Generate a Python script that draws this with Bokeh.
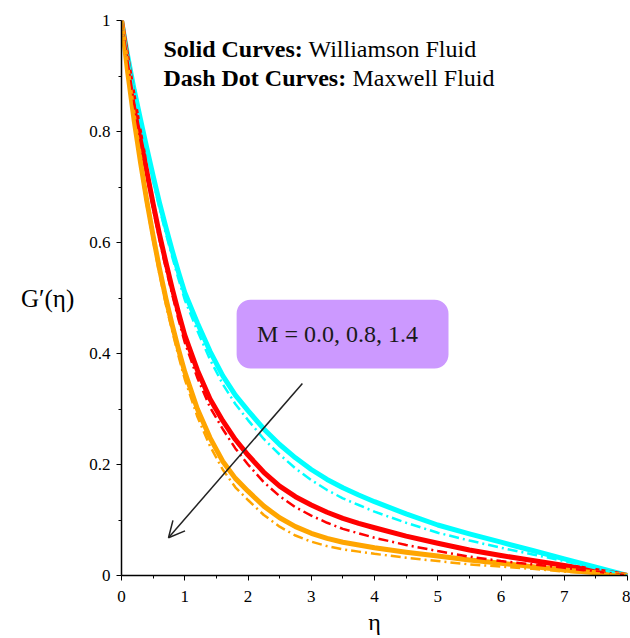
from bokeh.plotting import figure
from bokeh.models import (Range1d, FixedTicker, CustomJSTickFormatter, Label,
                          Arrow, OpenHead, BoxAnnotation)
from bokeh.embed import file_html
from bokeh.resources import INLINE

# ---- data ----
eta = [0, 0.1, 0.2, 0.3, 0.4, 0.5, 0.6, 0.7, 0.8, 0.9, 1.0, 1.2, 1.4, 1.6, 1.8, 2.0,
       2.25, 2.5, 2.75, 3.0, 3.25, 3.5, 3.75, 4.0, 4.5, 5.0, 5.5, 6.0, 6.5, 7.0, 7.5, 8.0]

williamson_M00 = [1, 0.935, 0.875, 0.822, 0.77, 0.72, 0.672, 0.628, 0.586, 0.547, 0.51,
                  0.455, 0.404, 0.36, 0.325, 0.297, 0.264, 0.236, 0.212, 0.191, 0.173, 0.158,
                  0.145, 0.133, 0.111, 0.091, 0.075, 0.06, 0.045, 0.03, 0.015, 0]
williamson_M08 = [1, 0.925, 0.855, 0.79, 0.728, 0.67, 0.615, 0.565, 0.518, 0.474, 0.433,
                  0.37, 0.318, 0.279, 0.245, 0.217, 0.186, 0.161, 0.142, 0.127, 0.114, 0.103,
                  0.094, 0.086, 0.071, 0.058, 0.046, 0.036, 0.027, 0.018, 0.009, 0]
williamson_M14 = [1, 0.905, 0.82, 0.745, 0.675, 0.612, 0.553, 0.5, 0.452, 0.408, 0.367,
                  0.3, 0.248, 0.206, 0.175, 0.152, 0.125, 0.104, 0.088, 0.076, 0.067, 0.06,
                  0.055, 0.05, 0.042, 0.035, 0.028, 0.022, 0.016, 0.01, 0.005, 0]

maxwell_M00 = [1, 0.933, 0.871, 0.816, 0.762, 0.711, 0.662, 0.617, 0.575, 0.535, 0.497,
               0.441, 0.389, 0.345, 0.309, 0.28, 0.246, 0.218, 0.193, 0.172, 0.154, 0.139,
               0.127, 0.115, 0.095, 0.077, 0.063, 0.05, 0.038, 0.026, 0.013, 0]
maxwell_M08 = [1, 0.923, 0.851, 0.784, 0.72, 0.661, 0.605, 0.554, 0.507, 0.462, 0.42,
               0.356, 0.303, 0.264, 0.229, 0.2, 0.168, 0.143, 0.123, 0.108, 0.095, 0.084,
               0.076, 0.068, 0.055, 0.044, 0.034, 0.026, 0.02, 0.014, 0.007, 0]
maxwell_M14 = [1, 0.903, 0.816, 0.739, 0.667, 0.603, 0.543, 0.489, 0.441, 0.396, 0.354,
               0.286, 0.233, 0.191, 0.159, 0.136, 0.109, 0.088, 0.072, 0.061, 0.053, 0.047,
               0.043, 0.039, 0.032, 0.026, 0.02, 0.016, 0.012, 0.007, 0.004, 0]

colors = ["#00FFFF", "#FF0000", "#FFA500"]

x_ticks = [0, 1, 2, 3, 4, 5, 6, 7, 8]
x_minor = [0.5, 1.5, 2.5, 3.5, 4.5, 5.5, 6.5, 7.5]
y_ticks = [0, 0.2, 0.4, 0.6, 0.8, 1.0]
y_minor = [0.1, 0.3, 0.5, 0.7, 0.9]

# annotation geometry (data units)
arrow_start = (2.86, 0.346)
arrow_end = (0.743, 0.068)
box_lrbt = (1.82, 5.17, 0.373, 0.497)

SERIF = "Liberation Serif"

p = figure(width=630, height=638, output_backend="svg", toolbar_location=None,
           x_range=Range1d(0, 8), y_range=Range1d(0, 1),
           min_border_left=121, min_border_right=3, min_border_top=20,
           min_border_bottom=63)
p.outline_line_color = None
p.xgrid.visible = False
p.ygrid.visible = False

for ax, ticks, minor in ((p.xaxis, x_ticks, x_minor), (p.yaxis, y_ticks, y_minor)):
    ax.ticker = FixedTicker(ticks=ticks, minor_ticks=minor)
    ax.formatter = CustomJSTickFormatter(code="return String(Math.round(tick*10)/10)")
    ax.axis_line_color = "black"
    ax.axis_line_width = 1.5
    ax.major_tick_line_color = "black"
    ax.minor_tick_line_color = "black"
    ax.major_tick_in = 0
    ax.major_tick_out = 5
    ax.minor_tick_in = 0
    ax.minor_tick_out = 3
    ax.major_label_text_font = SERIF
    ax.major_label_text_font_size = "17px"
    ax.major_label_text_color = "black"
    ax.axis_label_text_font = SERIF
    ax.axis_label_text_font_style = "normal"
    ax.axis_label_text_color = "black"
p.xaxis.major_label_standoff = 10
p.yaxis.major_label_standoff = 6

p.xaxis.axis_label = "η"
p.xaxis.axis_label_text_font_size = "24px"
p.xaxis.axis_label_standoff = 4
p.yaxis.axis_label = "G′(η)"
p.yaxis.axis_label_orientation = "horizontal"
p.yaxis.axis_label_text_font_size = "25px"
p.yaxis.axis_label_standoff = 12

solid = [williamson_M00, williamson_M08, williamson_M14]
dashed = [maxwell_M00, maxwell_M08, maxwell_M14]
for ys, c in zip(solid, colors):
    p.line(eta, ys, line_color=c, line_width=5, line_join="round")
for ys, c in zip(dashed, colors):
    p.line(eta, ys, line_color=c, line_width=2.5, line_dash="10 4 2 4")

# parameter box
p.add_layout(BoxAnnotation(left=box_lrbt[0], right=box_lrbt[1], bottom=box_lrbt[2],
                           top=box_lrbt[3], fill_color="#CC99FF", fill_alpha=1,
                           line_color=None, border_radius=14))
p.add_layout(Label(x=(box_lrbt[0] + box_lrbt[1]) / 2 - 0.08, y=(box_lrbt[2] + box_lrbt[3]) / 2,
                   text="M = 0.0, 0.8, 1.4", text_font=SERIF, text_font_size="24px",
                   text_align="center", text_baseline="middle", text_color="#1a1a1a"))

p.add_layout(Arrow(end=OpenHead(size=16, line_width=1.5, line_color="#222222"),
                   x_start=arrow_start[0], y_start=arrow_start[1],
                   x_end=arrow_end[0], y_end=arrow_end[1],
                   line_width=1.5, line_color="#222222"))

# header text (screen units relative to frame: x = px-121, y = 575-py)
def lab(px, py, text, size, bold=False, align="left"):
    p.add_layout(Label(x=px - 121, y=575 - py, x_units="screen", y_units="screen",
                       text=text, text_font=SERIF, text_font_size=size,
                       text_font_style=("bold" if bold else "normal"), text_align=align,
                       text_baseline="middle", text_color="black"))

lab(163, 48, "Solid Curves:", "24px", bold=True)
lab(308, 48, "Williamson Fluid", "24px")
lab(163, 77, "Dash Dot Curves:", "24px", bold=True)
lab(352, 77, "Maxwell Fluid", "24px")

open("out.html", "w").write(file_html(p, INLINE))
